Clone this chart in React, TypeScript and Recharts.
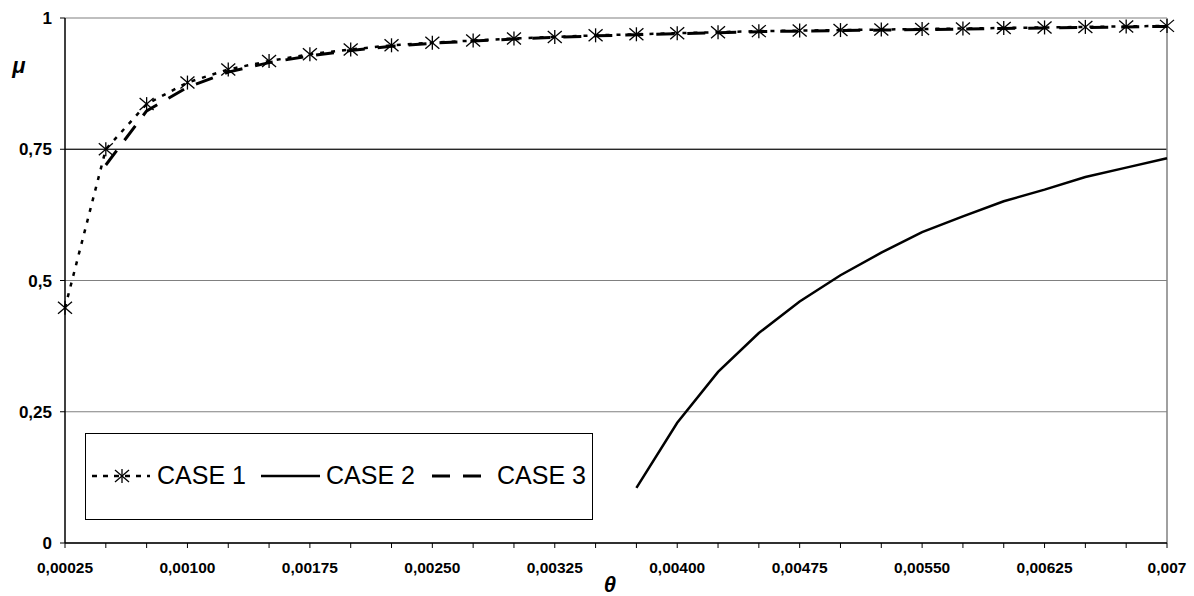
import { LineChart, Line, XAxis, YAxis, CartesianGrid, ReferenceLine, Legend, Label } from 'recharts'

const thetaLabels = [
  '0,00025', '0,00050', '0,00075', '0,00100', '0,00125', '0,00150', '0,00175',
  '0,00200', '0,00225', '0,00250', '0,00275', '0,00300', '0,00325', '0,00350',
  '0,00375', '0,00400', '0,00425', '0,00450', '0,00475', '0,00500', '0,00525',
  '0,00550', '0,00575', '0,00600', '0,00625', '0,00650', '0,00675', '0,007',
]

const case1 = [
  0.448, 0.75, 0.836, 0.877, 0.902, 0.918, 0.931, 0.94, 0.948, 0.953, 0.957, 0.961, 0.964, 0.967,
  0.969, 0.971, 0.973, 0.975, 0.976, 0.977, 0.978, 0.979, 0.98, 0.981, 0.982, 0.983, 0.984, 0.985,
]

const case2 = [
  null, null, null, null, null, null, null, null, null, null, null, null, null, null,
  0.105, 0.229, 0.326, 0.4, 0.46, 0.51, 0.553, 0.592, 0.622, 0.651, 0.673, 0.697, 0.715, 0.733,
]

const case3 = [
  null, 0.72, 0.823, 0.868, 0.897, 0.915, 0.928, 0.938, 0.946, 0.952, 0.956, 0.96, 0.963, 0.966,
  0.968, 0.97, 0.972, 0.974, 0.975, 0.976, 0.977, 0.978, 0.979, 0.98, 0.981, 0.982, 0.983, 0.984,
]

const yTicks = [0, 0.25, 0.5, 0.75, 1]
const seriesNames = ['CASE 1', 'CASE 2', 'CASE 3']

const data = thetaLabels.map((theta, i) => ({
  theta,
  case1: case1[i],
  case2: case2[i],
  case3: case3[i],
}))

const font = '"Liberation Sans", Arial, sans-serif'

function Asterisk(props: any) {
  const { cx, cy } = props
  if (cx == null || cy == null) return null
  return (
    <g stroke="#000" strokeWidth={1.3}>
      <line x1={cx} y1={cy - 7} x2={cx} y2={cy + 7} />
      <line x1={cx - 7} y1={cy - 6} x2={cx + 7} y2={cy + 6} />
      <line x1={cx - 7} y1={cy + 6} x2={cx + 7} y2={cy - 6} />
    </g>
  )
}

// every category gets a tick mark, only every third one a label
function ThetaTick(props: any) {
  const { x, y, payload, index } = props
  if (index % 3 !== 0) return null
  return (
    <text x={x} y={y + 23} textAnchor="middle" fontFamily={font} fontWeight="bold" fontSize={15.5} fill="#000">
      {payload.value}
    </text>
  )
}

function CaseLegend() {
  const ty = 51
  return (
    <svg width={508} height={87} style={{ display: 'block' }}>
      <rect x={0.5} y={0.5} width={507} height={86} fill="#fff" stroke="#000" />
      <line x1={7} y1={43} x2={65} y2={43} stroke="#000" strokeWidth={2.5} strokeDasharray="5 6" />
      <Asterisk cx={37} cy={43} />
      <text x={72} y={ty} fontFamily={font} fontSize={25} fill="#000">{seriesNames[0]}</text>
      <line x1={176} y1={43} x2={235} y2={43} stroke="#000" strokeWidth={2.5} />
      <text x={241} y={ty} fontFamily={font} fontSize={25} fill="#000">{seriesNames[1]}</text>
      <line x1={347} y1={43} x2={396} y2={43} stroke="#000" strokeWidth={3} strokeDasharray="18 13" />
      <text x={412} y={ty} fontFamily={font} fontSize={25} fill="#000">{seriesNames[2]}</text>
    </svg>
  )
}

export default function App() {
  return (
    <div style={{ position: 'absolute', left: 0, top: 0, width: 1194, height: 596, background: '#fff' }}>
      <LineChart width={1194} height={596} data={data} margin={{ top: 18, right: 27, bottom: 23, left: 5 }}>
        <CartesianGrid vertical={false} stroke="#808080" strokeWidth={1.2} />
        <ReferenceLine y={0.75} stroke="#000" />
        <ReferenceLine x="0,007" stroke="#808080" strokeWidth={1.5} />
        <XAxis
          dataKey="theta"
          type="category"
          interval={0}
          tick={<ThetaTick />}
          tickSize={5}
          axisLine={{ stroke: '#000', strokeWidth: 1.5 }}
          tickLine={{ stroke: '#000' }}
          height={30}
        >
          <Label
            content={(p: any) => (
              <text
                x={p.viewBox.x + 545}
                y={p.viewBox.y + 49}
                textAnchor="middle"
                fontFamily={font}
                fontWeight="bold"
                fontStyle="italic"
                fontSize={22}
                fill="#000"
              >
                θ
              </text>
            )}
          />
        </XAxis>
        <YAxis
          domain={[0, 1]}
          ticks={yTicks}
          interval={0}
          width={60}
          tickSize={5}
          tickMargin={8}
          tickFormatter={(v: number) => String(v).replace('.', ',')}
          tick={{ fill: '#000', fontFamily: font, fontWeight: 'bold', fontSize: 17 }}
          axisLine={{ stroke: '#000', strokeWidth: 1.5 }}
          tickLine={{ stroke: '#000' }}
        >
          <Label
            content={(p: any) => (
              <text
                x={p.viewBox.x + 14}
                y={p.viewBox.y + 55}
                textAnchor="middle"
                fontFamily={font}
                fontWeight="bold"
                fontStyle="italic"
                fontSize={22}
                fill="#000"
              >
                μ
              </text>
            )}
          />
        </YAxis>
        <Legend
          layout="horizontal"
          verticalAlign="middle"
          align="center"
          content={<CaseLegend />}
          wrapperStyle={{ left: 85, top: 433, width: 508, height: 87 }}
        />
        <Line
          dataKey="case3"
          name={seriesNames[2]}
          type="linear"
          stroke="#000"
          strokeWidth={3}
          strokeDasharray="18 13"
          dot={false}
          isAnimationActive={false}
        />
        <Line
          dataKey="case2"
          name={seriesNames[1]}
          type="linear"
          stroke="#000"
          strokeWidth={2.5}
          dot={false}
          isAnimationActive={false}
        />
        <Line
          dataKey="case1"
          name={seriesNames[0]}
          type="linear"
          stroke="#000"
          strokeWidth={2.5}
          strokeDasharray="4 7"
          dot={<Asterisk />}
          isAnimationActive={false}
        />
      </LineChart>
    </div>
  )
}
